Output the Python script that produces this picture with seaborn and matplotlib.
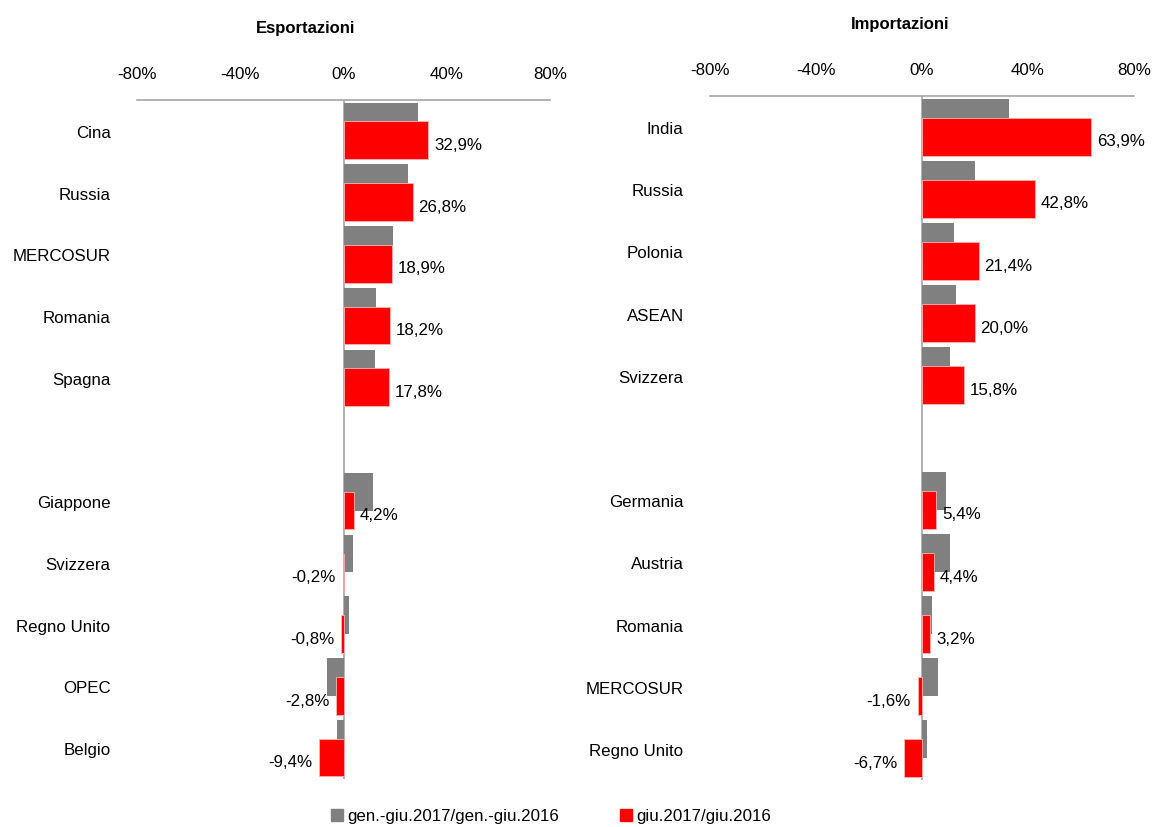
import numpy as np
import pandas as pd
import matplotlib.pyplot as plt
import seaborn as sns
from matplotlib.patches import Patch

# Export / import growth rates (%)
exp_countries = ['Cina', 'Russia', 'MERCOSUR', 'Romania', 'Spagna',
                 'Giappone', 'Svizzera', 'Regno Unito', 'OPEC', 'Belgio']
exp_period = [28.7, 24.8, 19.3, 12.4, 12.3, 11.4, 3.6, 2.1, -6.5, -2.5]
exp_month = [32.9, 26.8, 18.9, 18.2, 17.8, 4.2, -0.2, -0.8, -2.8, -9.4]

imp_countries = ['India', 'Russia', 'Polonia', 'ASEAN', 'Svizzera',
                 'Germania', 'Austria', 'Romania', 'MERCOSUR', 'Regno Unito']
imp_period = [32.8, 19.9, 12.2, 12.8, 10.4, 9.0, 10.4, 3.7, 6.1, 2.0]
imp_month = [63.9, 42.8, 21.4, 20.0, 15.8, 5.4, 4.4, 3.2, -1.6, -6.7]

x_ticks = [-80, -40, 0, 40, 80]
label_period = 'gen.-giu.2017/gen.-giu.2016'
label_month = 'giu.2017/giu.2016'

GREY = '#808080'
RED = '#FF0000'
AXIS = '#A6A6A6'

sns.set_theme(style='white')
plt.rcParams['font.family'] = ['Liberation Sans Narrow', 'Liberation Sans', 'DejaVu Sans']
plt.rcParams['text.color'] = 'black'
plt.rcParams['xtick.color'] = 'black'
plt.rcParams['ytick.color'] = 'black'
FS = 12.2


def draw(ax, countries, period, month):
    # top five, an empty slot, then the bottom five
    slots = np.r_[0:5, 6:11]
    df = pd.DataFrame({'country': countries, 'period': period,
                       'month': month, 'slot': slots})
    df['y_period'] = df['slot'] - 0.153
    df['y_month'] = df['slot'] + 0.153

    sns.barplot(data=df, x='period', y='y_period', orient='h', native_scale=True,
                width=0.61, color=GREY, saturation=1, linewidth=0,
                errorbar=None, ax=ax)
    sns.barplot(data=df, x='month', y='y_month', orient='h', native_scale=True,
                width=0.61, color=RED, saturation=1, linewidth=0.6,
                edgecolor='#FFB3B3', errorbar=None, ax=ax)

    for m, y in zip(df['month'], df['y_month']):
        txt = f'{m:.1f}%'.replace('.', ',')
        if m >= 0:
            ax.annotate(txt, xy=(m, y), xytext=(4, -3), textcoords='offset points',
                        ha='left', va='center', fontsize=FS)
        else:
            ax.annotate(txt, xy=(m, y), xytext=(-5, -3), textcoords='offset points',
                        ha='right', va='center', fontsize=FS)

    ax.set_xlim(-80, 80)
    ax.set_ylim(10.5, -0.5)
    ax.xaxis.tick_top()
    ax.set_xticks(x_ticks, [f'{t}%' for t in x_ticks])
    ax.set_yticks(slots, countries)
    ax.tick_params(axis='x', length=0, pad=14, labelsize=FS)
    ax.tick_params(axis='y', length=0, pad=19, labelsize=FS)
    ax.set_xlabel('')
    ax.set_ylabel('')
    for side in ['left', 'right', 'bottom']:
        ax.spines[side].set_visible(False)
    ax.spines['top'].set_color(AXIS)
    ax.spines['top'].set_linewidth(1.2)
    ax.axvline(0, color=AXIS, lw=1.2, zorder=0.5)


fig = plt.figure(figsize=(11.55, 8.28), dpi=100)
ax1 = fig.add_axes([137 / 1155, 1 - 780 / 828, 413 / 1155, 679 / 828])
ax2 = fig.add_axes([710 / 1155, 1 - 781 / 828, 424 / 1155, 684 / 828])

draw(ax1, exp_countries, exp_period, exp_month)
draw(ax2, imp_countries, imp_period, imp_month)

fig.text(306 / 1155, 1 - 28 / 828, 'Esportazioni', ha='center', va='center',
         fontsize=12, fontweight='bold')
fig.text(900 / 1155, 1 - 25 / 828, 'Importazioni', ha='center', va='center',
         fontsize=12, fontweight='bold')

handles = [Patch(color=GREY), Patch(color=RED)]
fig.legend(handles, [label_period, label_month], loc='center',
           bbox_to_anchor=(551 / 1155, 1 - 817 / 828), ncol=2, frameon=False,
           handlelength=0.7, handleheight=0.7, handletextpad=0.25,
           columnspacing=3.6, fontsize=FS)

fig.savefig('out.png', dpi=100)
